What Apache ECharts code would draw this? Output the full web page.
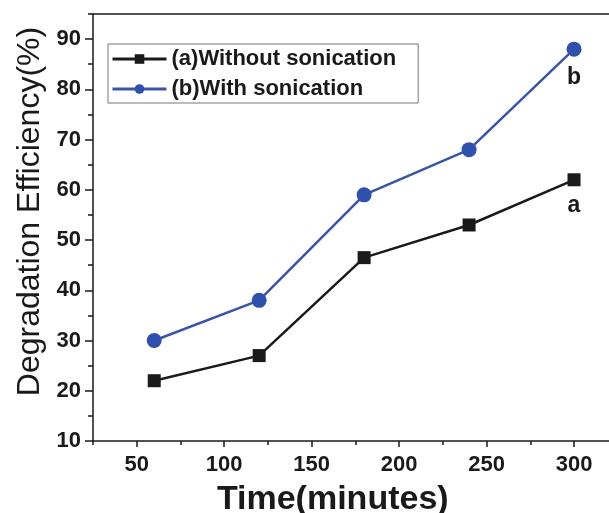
<!DOCTYPE html>
<html><head><meta charset="utf-8">
<script src="https://cdn.jsdelivr.net/npm/echarts@6/dist/echarts.min.js"></script>
<style>html,body{margin:0;padding:0;background:#fff}#c{width:609px;height:513px}</style>
</head><body><div id="c"></div>
<script>
const times = [60, 120, 180, 240, 300];
const withoutSonication = [22, 27, 46.5, 53, 62];
const withSonication = [30, 38, 59, 68, 88];
const seriesNames = ['(a)Without sonication', '(b)With sonication'];
const endLabels = ['a', 'b'];
const xTickLabels = [50, 100, 150, 200, 250, 300];
const yTickLabels = [10, 20, 30, 40, 50, 60, 70, 80, 90];

const FONT = '"Liberation Sans", Arial, sans-serif';
const INK = '#1a1a1a';
const BLUE = '#3a54a6';
const chart = echarts.init(document.getElementById('c'));
const xMin = 25, xMax = 322, yMin = 10, yMax = 95;
const L = 93, T = 14, B = 72, R = -3.5;
const W = 609 - L - R, H = 513 - T - B;
const sx = W / (xMax - xMin), sy = H / (yMax - yMin);
const xMajorMin = xTickLabels[0], yMajorMax = yTickLabels[yTickLabels.length - 1];
const g1Left = L + (xMajorMin - xMin) * sx;
const g1Top = T + (yMax - yMajorMax) * sy;

function pairs(vals){ return times.map((t,i)=>[t, vals[i]]); }
function withEnd(vals, lab){
  return pairs(vals).map((p,i)=> i===vals.length-1 ? {value:p, label:{show:true, formatter:lab}} : p);
}
const lbl = {fontFamily:FONT, fontSize:22, fontWeight:'bold', color:INK};
chart.setOption({
  animation:false,
  grid:[
    {left:L, top:T, bottom:B, right:R, containLabel:false, outerBoundsMode:'none'},
    {left:g1Left, top:g1Top, bottom:B, right:R, containLabel:false, outerBoundsMode:'none'}
  ],
  legend:{
    left:108, top:44, orient:'vertical',
    borderColor:'#777', borderWidth:1, padding:[4,22,3,3],
    itemWidth:54, itemHeight:12, itemGap:8,
    lineStyle:{width:3},
    textStyle:{fontFamily:FONT, fontSize:22, fontWeight:'bold', color:INK},
    data:seriesNames
  },
  xAxis:[{
    gridIndex:0, type:'value', min:xMin, max:xMax, interval:25,
    name:'Time(minutes)', nameLocation:'middle', nameGap:42,
    nameTextStyle:{fontFamily:FONT, fontSize:34, fontWeight:'bold', color:INK, padding:[0,40,0,0]},
    axisLine:{show:true, lineStyle:{color:INK, width:1.5}},
    axisTick:{show:true, length:4, lineStyle:{color:INK, width:1.5}},
    axisLabel:{show:false},
    splitLine:{show:false}
  },{
    gridIndex:0, type:'value', min:xMin, max:xMax, position:'top',
    axisLine:{show:true, onZero:false, lineStyle:{color:INK, width:1.5}},
    axisTick:{show:false}, axisLabel:{show:false}, splitLine:{show:false}
  },{
    gridIndex:1, type:'value', min:xMajorMin, max:xMax, interval:50, position:'bottom',
    axisLine:{show:false},
    axisTick:{show:true, length:6, lineStyle:{color:INK, width:1.5}},
    axisLabel:Object.assign({margin:13, formatter:v=> xTickLabels.includes(v) ? String(v) : ''}, lbl),
    splitLine:{show:false}
  }],
  yAxis:[{
    gridIndex:0, type:'value', min:yMin, max:yMax, interval:5,
    name:'Degradation Efficiency(%)', nameLocation:'middle', nameGap:47,
    nameTextStyle:{fontFamily:FONT, fontSize:32, color:INK, padding:[0,0,0,32]},
    axisLine:{show:true, lineStyle:{color:INK, width:1.5}},
    axisTick:{show:true, length:5, lineStyle:{color:INK, width:1.5}},
    axisLabel:{show:false},
    splitLine:{show:false}
  },{
    gridIndex:1, type:'value', min:yMin, max:yMajorMax, interval:10, position:'left',
    offset:g1Left - L,
    axisLine:{show:false},
    axisTick:{show:true, length:8, lineStyle:{color:INK, width:1.5}},
    axisLabel:Object.assign({margin:12, formatter:v=> yTickLabels.includes(v) ? String(v) : ''}, lbl),
    splitLine:{show:false}
  }],
  series:[{
    name:seriesNames[0], type:'line', xAxisIndex:0, yAxisIndex:0,
    data:withEnd(withoutSonication, endLabels[0]),
    symbol:'rect', symbolSize:13,
    lineStyle:{color:INK, width:2.5}, itemStyle:{color:INK},
    label:{show:false, position:'bottom', distance:8, fontFamily:FONT, fontSize:23, fontWeight:'bold', color:INK}
  },{
    name:seriesNames[1], type:'line', xAxisIndex:0, yAxisIndex:0,
    data:withEnd(withSonication, endLabels[1]),
    symbol:'circle', symbolSize:15,
    lineStyle:{color:BLUE, width:2.5}, itemStyle:{color:'#3050ae'},
    label:{show:false, position:'bottom', distance:9, fontFamily:FONT, fontSize:23, fontWeight:'bold', color:INK}
  }]
});
</script></body></html>
